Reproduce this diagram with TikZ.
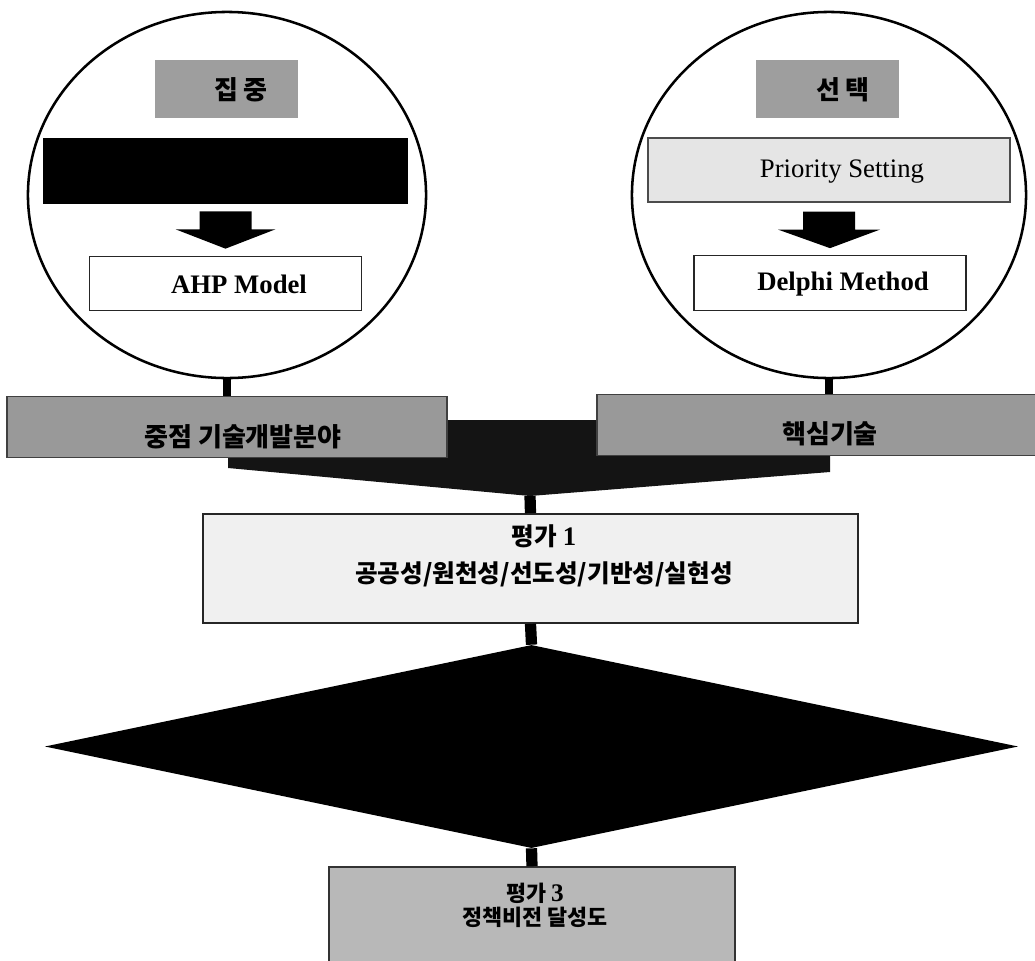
\documentclass[tikz,border=0pt]{standalone}
\usepackage{fontspec}
\setmainfont{Liberation Serif}
\newfontfamily\kor{Noto Sans CJK KR}[BoldFont={Noto Sans CJK KR Black}]
\usetikzlibrary{calc,shapes.geometric}
\begin{document}
\begin{tikzpicture}[x=0.025cm,y=-0.025cm,
  ring/.style={ellipse,draw,line width=1.8pt,minimum height=9.15cm,inner sep=0},
  tag/.style={fill=black!38,minimum width=3.55cm,minimum height=1.45cm,inner sep=0},
  whitebox/.style={draw=black!85,line width=0.9pt,fill=white,minimum width=6.8cm,minimum height=1.36cm,inner sep=0},
  bar/.style={draw=black!75,line width=0.8pt,fill=black!40,minimum width=11cm,minimum height=1.53cm,inner sep=0},
  kr/.style={font=\kor\bfseries\fontsize{18.5}{22}\selectfont},
  en/.style={font=\fontsize{19}{22}\selectfont},
  link/.style={line width=5pt},
  stem/.style={line width=8pt}]
\useasboundingbox (0,0) rectangle (1035,961);
\node[ring,minimum width=9.95cm] (focusring) at (227,195) {};
\node[ring,minimum width=9.85cm] (selectring) at (829,195) {};
\node[tag] (focustag) at (226.5,89) {};
\node[kr] (focuslbl) at (241,90) {집 중};
\node[tag] (selecttag) at (827.5,89) {};
\node[kr] (selectlbl) at (843,90) {선 택};
\node[fill=black,minimum width=9.125cm,minimum height=1.65cm,inner sep=0] (focusbar) at (225.5,171) {};
\node[draw=black!70,line width=0.8pt,fill=black!10,minimum width=9.05cm,minimum height=1.6cm,inner sep=0] (prioritybox) at (829,170) {};
\node[en] (prioritylbl) at (842,172) {Priority Setting};
\node[whitebox] (ahpbox) at (225.5,283.5) {};
\node[en] (ahplbl) at (239,284) {\bfseries AHP Model};
\node[whitebox] (delphibox) at (830,283) {};
\node[en] (delphilbl) at (843,284) {\bfseries Delphi Method};
\fill ($(focusbar.south)+(-26,7)$) -- ++(52,0) -- ++(0,18) -- ++(24,0) -- ($(ahpbox.north)+(0,-7)$) -- ($(focusbar.south)+(-50,25)$) -- ++(24,0) -- cycle;
\fill ($(prioritybox.south)+(-26,9)$) -- ++(52,0) -- ++(0,18) -- ++(25,0) -- ($(delphibox.north)+(0,-7)$) -- ($(prioritybox.south)+(-51,27)$) -- ++(25,0) -- cycle;
\fill[black!92] (228,420) -- (830,420) -- (830,472) -- (530,496) coordinate (funneltip) -- (228,468) -- cycle;
\node[bar] (leftbar) at (227,427) {};
\node[bar] (rightbar) at (817,425) {};
\node[kr] (leftlbl) at (243,437) {중점 기술개발분야};
\node[kr] (rightlbl) at (830,434) {핵심기술};
\draw[link] (focusring.south) -- (leftbar.north);
\draw[link] (selectring.south) -- (selectring.south |- rightbar.north);
\node[draw=black!85,line width=1.2pt,fill=black!6,minimum width=16.375cm,minimum height=2.725cm,inner sep=0] (evalone) at (530.5,568.5) {};
\node[kr,font=\kor\bfseries\fontsize{17.5}{26}\selectfont,align=center] (evalonelbl) at (544,556) {평가 {\rmfamily\fontsize{19}{26}\selectfont 1}\\공공성/원천성/선도성/기반성/실현성};
\node[diamond,fill=black,minimum width=24.325cm,minimum height=5.075cm,inner sep=0] (gate) at (531.5,746.5) {};
\node[draw=black!80,line width=1pt,fill=black!28,minimum width=10.15cm,minimum height=2.7cm,inner sep=0] (evalthree) at (532,921) {};
\node[kr,font=\kor\bfseries\fontsize{15.5}{17}\selectfont,align=center] (evalthreelbl) at (535,905) {평가 {\rmfamily\fontsize{18}{17}\selectfont 3}\\정책비전 달성도};
\draw[stem] (funneltip) -- (evalone.north);
\draw[stem] (evalone.south) -- (gate.north);
\draw[stem] (gate.south) -- (evalthree.north);
\end{tikzpicture}
\end{document}
